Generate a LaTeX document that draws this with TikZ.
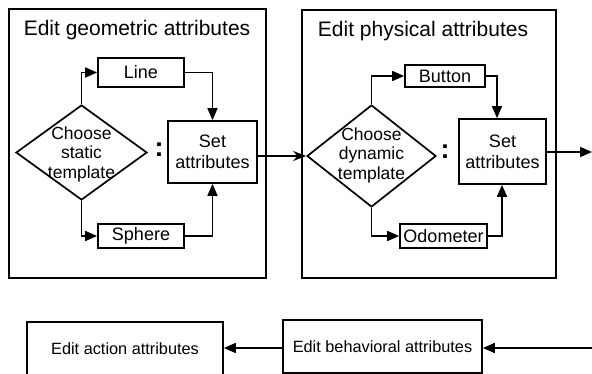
\documentclass[tikz,border=0pt]{standalone}
\usepackage{fontspec}
\setmainfont{Liberation Sans}
\usetikzlibrary{shapes.geometric,arrows.meta}
\begin{document}
\begin{tikzpicture}[x=1pt,y=-1pt,
  line width=1.7pt,
  >={Triangle[length=12pt,width=10pt]},
  frame/.style={draw,rectangle,inner sep=0pt},
  boxtext/.style={frame,font=\fontsize{18}{21}\selectfont,align=center},
  title/.style={font=\fontsize{21}{25}\selectfont,inner sep=0pt},
  dia/.style={draw,diamond,inner sep=0pt},
  diatext/.style={font=\fontsize{17.5}{19.5}\selectfont,align=center,inner sep=0pt},
  dots/.style={font=\fontsize{27}{27}\selectfont\bfseries,inner sep=0pt},
  bigbox/.style={frame,font=\fontsize{16.3}{20}\selectfont}]
\clip (0,0) rectangle (592,374);
\useasboundingbox (0,0) rectangle (592,374);

% ---- geometric attributes stage
\node[frame,minimum width=257,minimum height=269] (geo) at (137.5,143.5) {};
\node[title] (geoT) at (137,30) {Edit geometric attributes};
\node[boxtext,minimum width=86,minimum height=29] (line) at (141,72.5) {Line};
\node[boxtext,minimum width=86,minimum height=24] (sphere) at (141,236) {Sphere};
\node[boxtext,minimum width=89,minimum height=62] (set1) at (212.5,152) {Set\\attributes};
\node[dia,minimum width=131,minimum height=95] (d1) at (81.5,152.5) {};
\node[diatext] (d1t) at (81.5,154) {Choose\\static\\template};
\node[dots] (c1) at (159,150) {:};

\draw[->] (d1.north) |- (line.west);
\draw[->] (d1.south) |- (sphere.west);
\draw[->] (line.east) -| (set1.north);
\draw[->] (sphere.east) -| (set1.south);

% ---- physical attributes stage
\node[frame,minimum width=254,minimum height=268] (phy) at (429,144) {};
\node[title] (phyT) at (423,31) {Edit physical attributes};
\node[boxtext,minimum width=80,minimum height=22] (button) at (445,76) {Button};
\node[boxtext,minimum width=87,minimum height=24] (odo) at (443.5,236) {Odometer};
\node[boxtext,minimum width=87,minimum height=65] (set2) at (502.5,151.5) {Set\\attributes};
\node[dia,minimum width=129,minimum height=102] (d2) at (371.5,156) {};
\node[diatext] (d2t) at (371.5,155) {Choose\\dynamic\\template};
\node[dots] (c2) at (445,152) {:};

\draw[->] (d2.north) |- (button.west);
\draw[->] (d2.south) |- (odo.west);
\draw[->] (button.east) -| ([xshift=-5.5pt]set2.north);
\draw[->] (odo.east) -| ([xshift=-0.5pt]set2.south);

% stage 1 -> stage 2
\draw[-{Stealth[length=13pt,width=10pt]}] (set1.east |- d2.west) -- (d2.west);

% stage 2 leaves to the right
\coordinate (outR) at (592,152);
\draw[->] (set2.east |- outR) -- (outR);

% ---- lower row
\node[bigbox,minimum width=199,minimum height=53] (beh) at (382.5,346.5) {Edit behavioral attributes};
\node[bigbox,minimum width=196,minimum height=54] (act) at (125,349) {Edit action attributes};
\coordinate (inR) at (593,348);
\draw[->] (inR) -- (beh.east |- inR);
\draw[->] (beh.west |- inR) -- (act.east |- inR);
\end{tikzpicture}
\end{document}
